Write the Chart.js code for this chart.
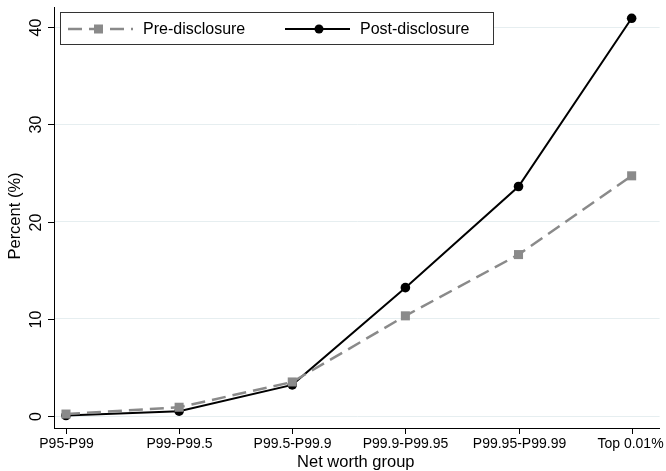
<!DOCTYPE html>
<html>
<head>
<meta charset="utf-8">
<script src="https://cdn.jsdelivr.net/npm/chart.js@4/dist/chart.umd.min.js"></script>
<style>
  html, body { margin: 0; padding: 0; background: #fff; }
  #wrap { width: 666px; height: 471px; position: relative; }
</style>
</head>
<body>
<div id="wrap"><canvas id="chart"></canvas></div>
<script>
// ---------------- Data ----------------
const groups = ["P95-P99", "P99-P99.5", "P99.5-P99.9", "P99.9-P99.95", "P99.95-P99.99", "Top 0.01%"];
const preDisclosure = [0.2, 0.9, 3.5, 10.3, 16.6, 24.7];
const postDisclosure = [0.05, 0.5, 3.2, 13.2, 23.6, 40.9];
const yTicks = [0, 10, 20, 30, 40];

const FONT = "'Liberation Sans', Arial, Helvetica, sans-serif";
const PRE_COLOR = "#8a8a8a";
const POST_COLOR = "#000000";

function toPoints(values) {
    return values.map(function(v, i) { return { x: i, y: v }; });
}

// texts, tick marks and the boxed legend (Stata look)
const decorations = {
    id: "decorations",
    afterDraw: function(chart) {
        const ctx = chart.ctx;
        const xs = chart.scales.x;
        const ys = chart.scales.y;
        const area = chart.chartArea;
        ctx.save();
        ctx.strokeStyle = "#000";
        ctx.lineWidth = 1;

        // y ticks + rotated labels
        ctx.font = "16px " + FONT;
        ctx.fillStyle = "#000";
        yTicks.forEach(function(t) {
            const py = Math.round(ys.getPixelForValue(t)) + 0.5;
            ctx.beginPath();
            ctx.moveTo(area.left - 6, py);
            ctx.lineTo(area.left, py);
            ctx.stroke();
            ctx.save();
            ctx.translate(37, py);
            ctx.rotate(-Math.PI / 2);
            ctx.textAlign = "center";
            ctx.textBaseline = "middle";
            ctx.fillText(String(t), 0, 0);
            ctx.restore();
        });

        // x ticks + labels
        ctx.font = "14px " + FONT;
        groups.forEach(function(g, i) {
            const px = Math.round(xs.getPixelForValue(i)) + 0.5;
            ctx.beginPath();
            ctx.moveTo(px, area.bottom);
            ctx.lineTo(px, area.bottom + 6);
            ctx.stroke();
            ctx.textAlign = "center";
            ctx.textBaseline = "middle";
            ctx.fillText(g, i === groups.length - 1 ? px - 2 : px, area.bottom + 16);
        });

        // axis titles
        ctx.font = "16.5px " + FONT;
        ctx.textAlign = "center";
        ctx.textBaseline = "middle";
        ctx.fillText("Net worth group", (area.left + area.right) / 2 - 1, 462);
        ctx.save();
        ctx.translate(15, 216);
        ctx.rotate(-Math.PI / 2);
        ctx.fillText("Percent (%)", 0, 0);
        ctx.restore();

        // legend box
        ctx.fillStyle = "#fff";
        ctx.fillRect(60.5, 12.5, 433, 32);
        ctx.strokeStyle = "#333";
        ctx.strokeRect(60.5, 12.5, 433, 32);

        const ly = 29;
        // pre-disclosure sample
        ctx.strokeStyle = PRE_COLOR;
        ctx.lineWidth = 2.5;
        ctx.setLineDash([14, 7]);
        ctx.beginPath();
        ctx.moveTo(68, ly);
        ctx.lineTo(133, ly);
        ctx.stroke();
        ctx.setLineDash([]);
        ctx.fillStyle = PRE_COLOR;
        ctx.fillRect(94, ly - 4.5, 9, 9);
        // post-disclosure sample
        ctx.strokeStyle = POST_COLOR;
        ctx.lineWidth = 2;
        ctx.beginPath();
        ctx.moveTo(285, ly);
        ctx.lineTo(350, ly);
        ctx.stroke();
        ctx.fillStyle = POST_COLOR;
        ctx.beginPath();
        ctx.arc(319, ly, 4.5, 0, Math.PI * 2);
        ctx.fill();

        ctx.font = "16px " + FONT;
        ctx.fillStyle = "#000";
        ctx.textAlign = "left";
        ctx.textBaseline = "middle";
        ctx.fillText("Pre-disclosure", 143, ly + 1);
        ctx.fillText("Post-disclosure", 360, ly + 1);
        ctx.restore();
    }
};

new Chart(document.getElementById("chart"), {
    type: "line",
    data: {
        datasets: [{
            label: "Pre-disclosure",
            data: toPoints(preDisclosure),
            borderColor: PRE_COLOR,
            backgroundColor: PRE_COLOR,
            borderWidth: 2.5,
            borderDash: [14, 7],
            pointStyle: "rect",
            pointRadius: 6.4,
            pointBorderWidth: 0,
            tension: 0,
            clip: false
        }, {
            label: "Post-disclosure",
            data: toPoints(postDisclosure),
            borderColor: POST_COLOR,
            backgroundColor: POST_COLOR,
            borderWidth: 2,
            pointStyle: "circle",
            pointRadius: 4.8,
            pointBorderWidth: 0,
            tension: 0,
            clip: false
        }]
    },
    options: {
        responsive: true,
        maintainAspectRatio: false,
        animation: false,
        devicePixelRatio: 1,
        layout: { padding: { left: 54, right: 6, top: 7, bottom: 43 } },
        plugins: {
            legend: { display: false },
            tooltip: { enabled: false }
        },
        scales: {
            x: {
                type: "linear",
                min: -0.106,
                max: 5.247,
                afterBuildTicks: function(axis) {
                    axis.ticks = groups.map(function(g, i) { return { value: i }; });
                },
                grid: { display: false, drawTicks: false },
                border: { display: true, color: "#000", width: 1 },
                ticks: { display: false }
            },
            y: {
                min: -1.234,
                max: 42.06,
                afterBuildTicks: function(axis) {
                    axis.ticks = yTicks.map(function(t) { return { value: t }; });
                },
                grid: { color: "#e6eef0", lineWidth: 1, drawTicks: false },
                border: { display: true, color: "#000", width: 1 },
                ticks: { display: false }
            }
        }
    },
    plugins: [decorations]
});
</script>
</body>
</html>
